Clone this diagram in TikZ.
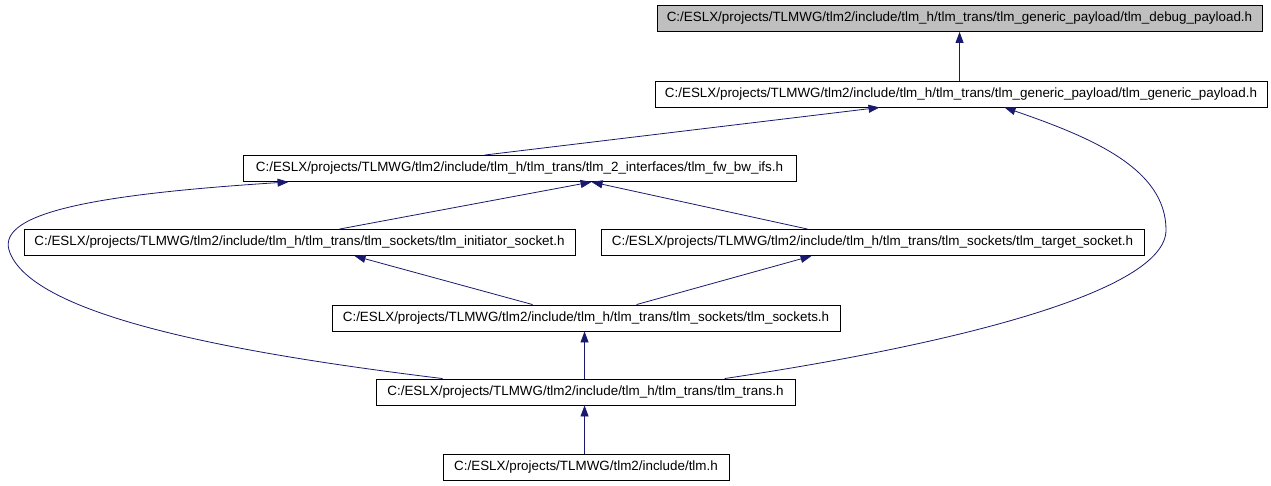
\documentclass[tikz,border=0pt]{standalone}
\usepackage{fontspec}
\setmainfont{Liberation Sans}
\usetikzlibrary{arrows.meta,calc}
\definecolor{edgeblue}{HTML}{191970}
\definecolor{boxgray}{HTML}{BFBFBF}
\begin{document}
\begin{tikzpicture}[x=1pt,y=-1pt,
  filebox/.style={draw=black,line width=0.9pt,minimum height=26pt,inner sep=0pt,
    font=\fontsize{13.4}{15}\selectfont,anchor=center},
  edge/.style={draw=edgeblue,line width=0.8pt,-{Triangle[length=11pt,width=8pt]}}]
\useasboundingbox[fill=white] (0,0) rectangle (1271,485);
\node[filebox,fill=boxgray,minimum width=605pt] (n1) at (959.5,18.5) {C:/ESLX/projects/TLMWG/tlm2/include/tlm\_h/tlm\_trans/tlm\_generic\_payload/tlm\_debug\_payload.h};
\node[filebox,minimum width=612pt] (n2) at (961,94) {C:/ESLX/projects/TLMWG/tlm2/include/tlm\_h/tlm\_trans/tlm\_generic\_payload/tlm\_generic\_payload.h};
\node[filebox,minimum width=553pt] (n3) at (519.5,168.5) {C:/ESLX/projects/TLMWG/tlm2/include/tlm\_h/tlm\_trans/tlm\_2\_interfaces/tlm\_fw\_bw\_ifs.h};
\node[filebox,minimum width=551pt] (n4) at (299.5,242.5) {C:/ESLX/projects/TLMWG/tlm2/include/tlm\_h/tlm\_trans/tlm\_sockets/tlm\_initiator\_socket.h};
\node[filebox,minimum width=543pt] (n5) at (872.5,242.5) {C:/ESLX/projects/TLMWG/tlm2/include/tlm\_h/tlm\_trans/tlm\_sockets/tlm\_target\_socket.h};
\node[filebox,minimum width=508pt] (n6) at (586,318) {C:/ESLX/projects/TLMWG/tlm2/include/tlm\_h/tlm\_trans/tlm\_sockets/tlm\_sockets.h};
\node[filebox,minimum width=419pt] (n7) at (585.5,392) {C:/ESLX/projects/TLMWG/tlm2/include/tlm\_h/tlm\_trans/tlm\_trans.h};
\node[filebox,minimum width=286pt] (n8) at (586,467) {C:/ESLX/projects/TLMWG/tlm2/include/tlm.h};
% edges
\draw[edge] ($(n2.north west)+(305,0)$) -- ($(n1.south west)+(303,0)$);
\draw[edge] ($(n3.north west)+(242,0)$) -- ($(n2.south west)+(225,0)$);
\draw[edge] ($(n7.north west)+(349,0)$) .. controls (950,345) and (1166,292) .. (1166,230)
   .. controls (1166,168) and (1090,137) .. ($(n2.south west)+(350,0)$);
\draw[edge] ($(n4.north west)+(316,0)$) -- ($(n3.south west)+(349,0)$);
\draw[edge] ($(n5.north west)+(207,0)$) -- ($(n3.south west)+(349,0)$);
\draw[edge] ($(n7.north west)+(67,0)$) .. controls (250,355) and (30,318) .. (9,250)
   .. controls (-2,212) and (100,194) .. ($(n3.south west)+(46,0)$);
\draw[edge] ($(n6.north west)+(201,0)$) -- ($(n4.south west)+(331,0)$);
\draw[edge] ($(n6.north west)+(305,0)$) -- ($(n5.south west)+(211,0)$);
\draw[edge] ($(n7.north west)+(209,0)$) -- ($(n6.south west)+(253,0)$);
\draw[edge] ($(n8.north west)+(142,0)$) -- ($(n7.south west)+(209,0)$);
\end{tikzpicture}
\end{document}
